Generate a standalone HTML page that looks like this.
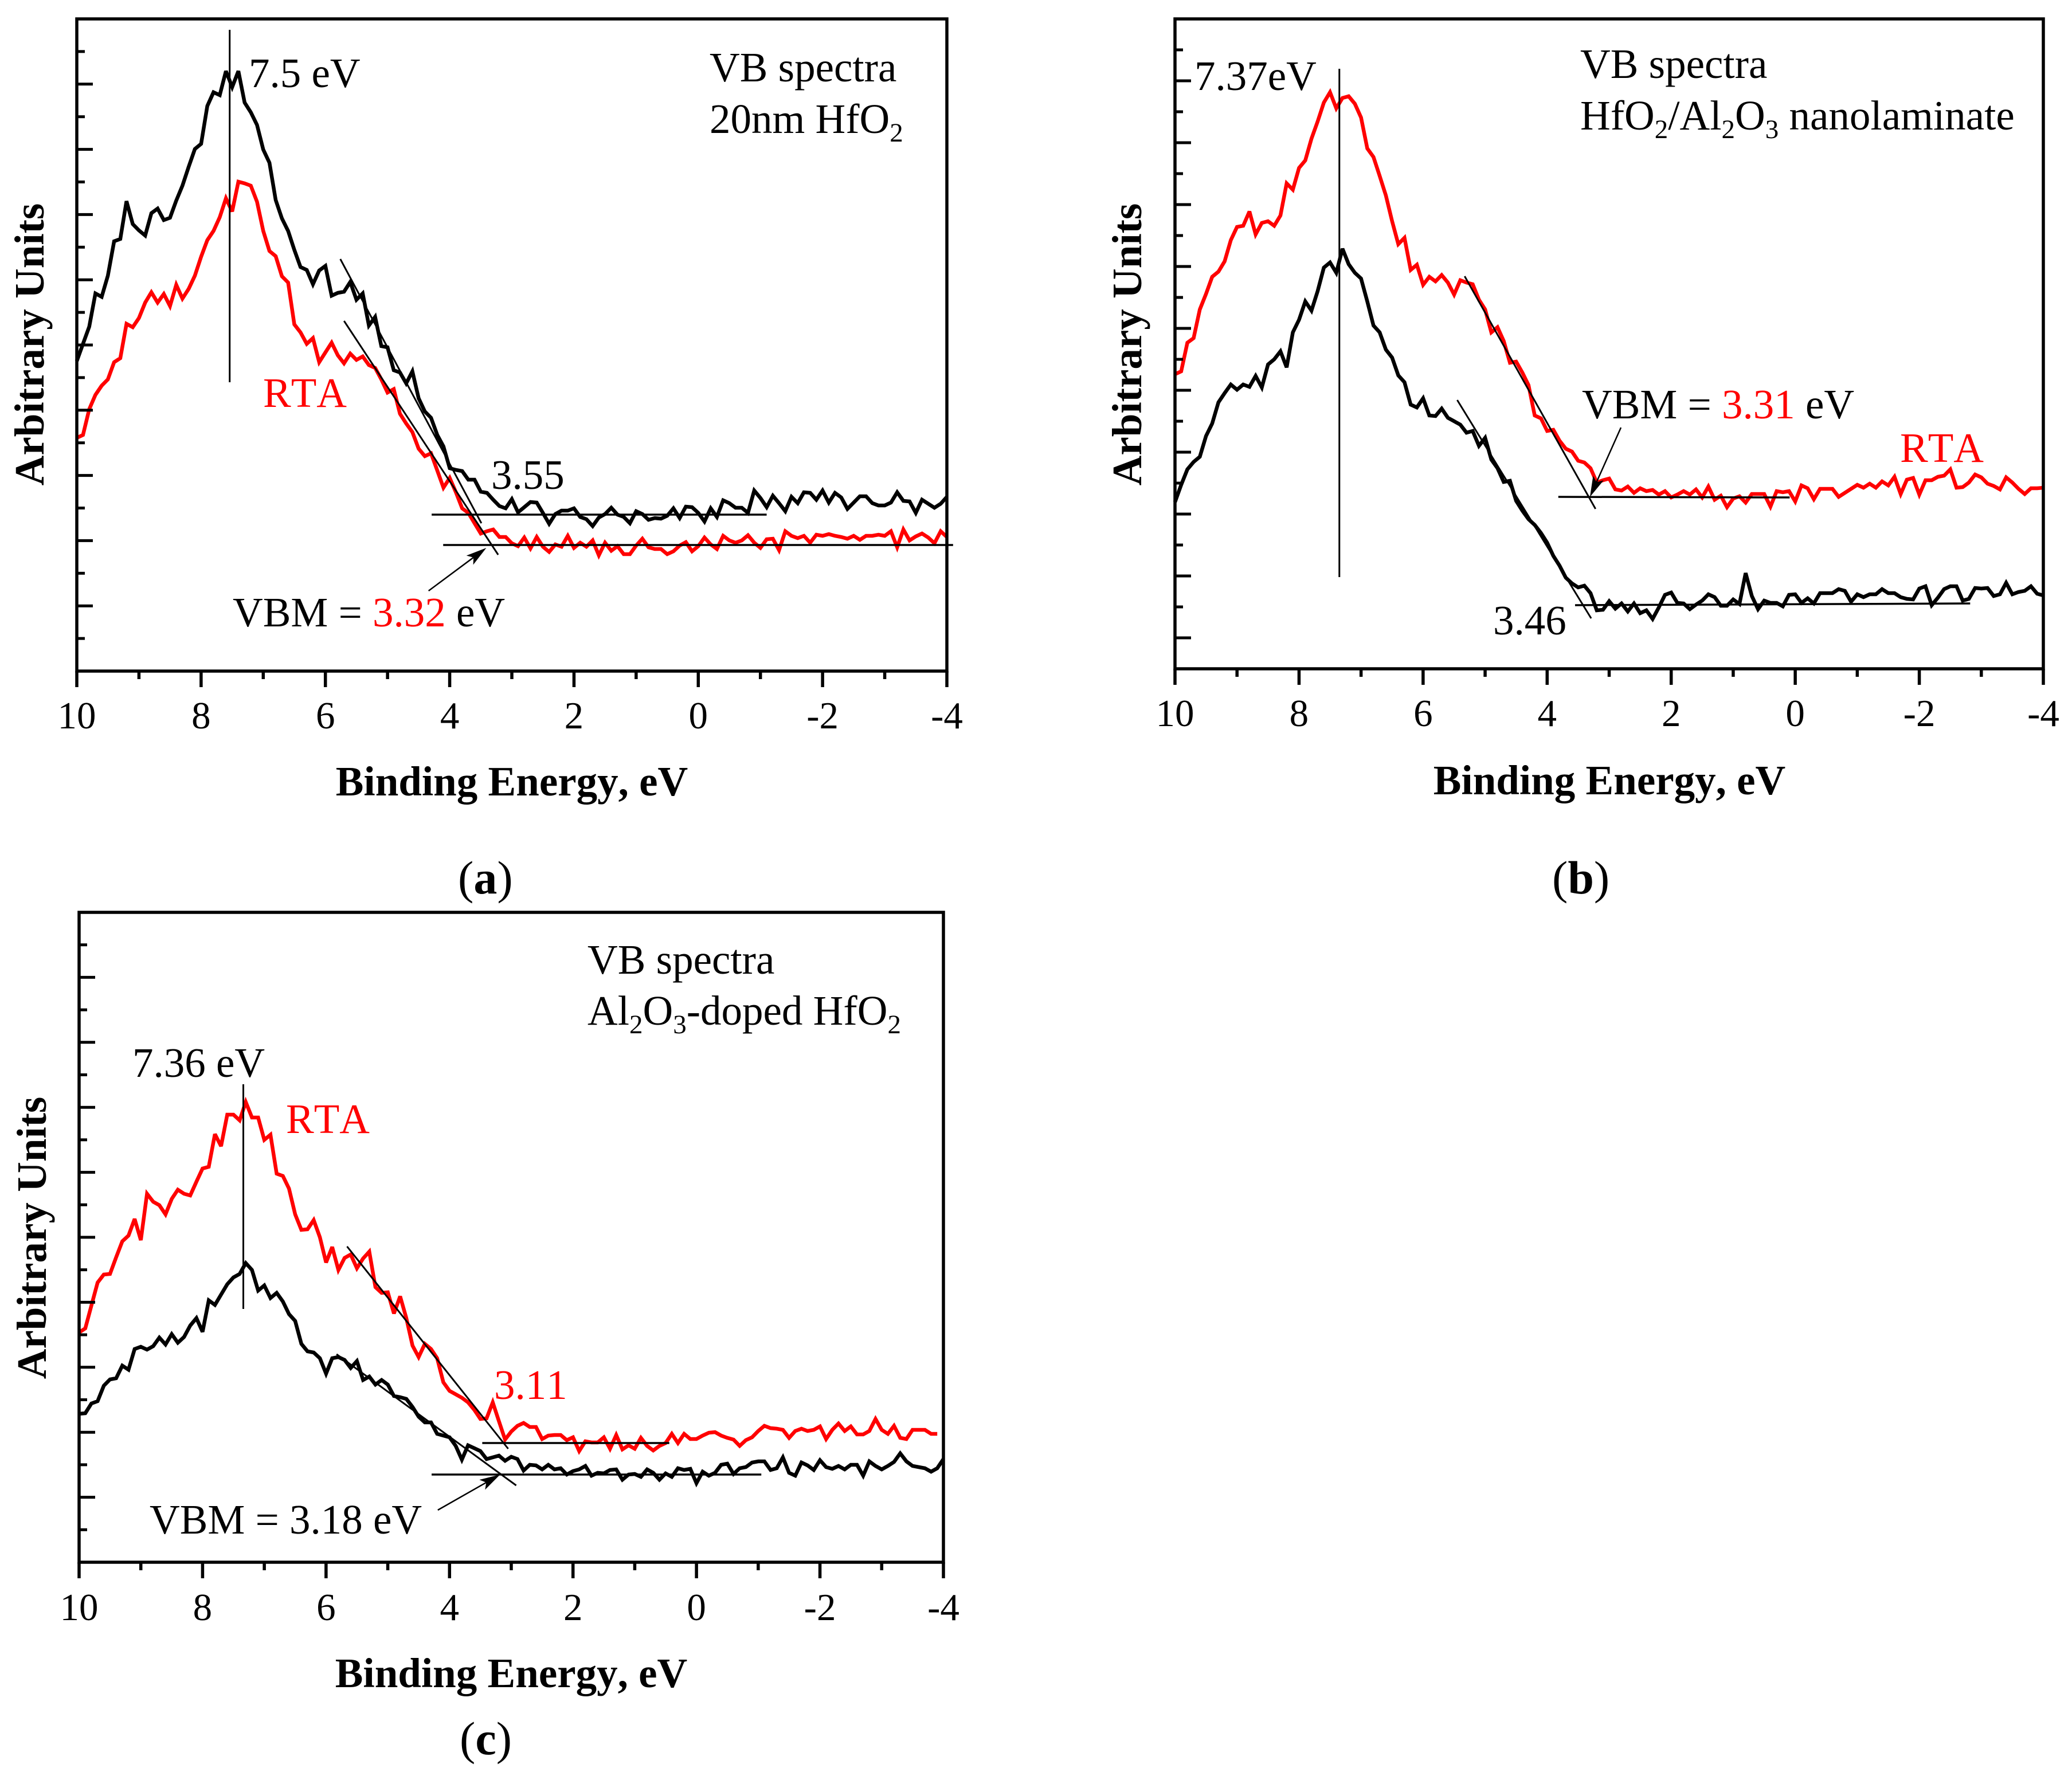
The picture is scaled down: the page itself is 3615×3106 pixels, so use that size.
<!DOCTYPE html>
<html lang="en">
<head>
<meta charset="utf-8">
<title>VB spectra</title>
<style>
html,body{margin:0;padding:0;background:#fff;}
svg{display:block;}
text{font-family:"Liberation Serif",serif;font-size:73px;fill:#000;font-kerning:none;}
.red{fill:#f00;}
.title{font-weight:bold;}
.sub{font-size:47px;}
</style>
</head>
<body>
<svg id="figure" xmlns="http://www.w3.org/2000/svg" width="3615" height="3106" viewBox="0 0 3615 3106">
<rect width="3615" height="3106" fill="#fff"/>
<g id="plots"></g>

<text x="434" y="152">7.5 eV</text>
<text x="1238" y="142">VB spectra</text>
<text x="1238" y="232">20nm HfO<tspan class="sub" dy="15">2</tspan></text>
<text class="red" x="459" y="710">RTA</text>
<text x="857" y="853">3.55</text>
<text x="406" y="1093">VBM = <tspan class="red">3.32</tspan> eV</text>
<text class="title" x="893" y="1388" text-anchor="middle">Binding Energy, eV</text>
<text class="title" transform="translate(76 601) rotate(-90)" text-anchor="middle">Arbitrary Units</text>
<text x="799" y="1559" style="font-size:82px">(<tspan style="font-weight:bold">a</tspan>)</text>

<text x="2084" y="157">7.37eV</text>
<text x="2757" y="136">VB spectra</text>
<text x="2757" y="226">HfO<tspan class="sub" dy="15">2</tspan><tspan dy="-15">/Al</tspan><tspan class="sub" dy="15">2</tspan><tspan dy="-15">O</tspan><tspan class="sub" dy="15">3</tspan><tspan dy="-15"> nanolaminate</tspan></text>
<text x="2760" y="730">VBM = <tspan class="red">3.31</tspan> eV</text>
<text class="red" x="3315" y="806">RTA</text>
<text x="2605" y="1107">3.46</text>
<text class="title" x="2808" y="1386" text-anchor="middle">Binding Energy, eV</text>
<text class="title" transform="translate(1991 601) rotate(-90)" text-anchor="middle">Arbitrary Units</text>
<text x="2708" y="1559" style="font-size:82px">(<tspan style="font-weight:bold">b</tspan>)</text>

<text x="1025" y="1699">VB spectra</text>
<text x="1025" y="1788">Al<tspan class="sub" dy="15">2</tspan><tspan dy="-15">O</tspan><tspan class="sub" dy="15">3</tspan><tspan dy="-15">-doped HfO</tspan><tspan class="sub" dy="15">2</tspan></text>
<text x="231" y="1879">7.36 eV</text>
<text class="red" x="499" y="1977">RTA</text>
<text class="red" x="862" y="2441">3.11</text>
<text x="261" y="2676">VBM = 3.18 eV</text>
<text class="title" x="892" y="2944" text-anchor="middle">Binding Energy, eV</text>
<text class="title" transform="translate(80 2160) rotate(-90)" text-anchor="middle">Arbitrary Units</text>
<text x="802" y="3061" style="font-size:82px">(<tspan style="font-weight:bold">c</tspan>)</text>
</svg>

<script>
// Binding energy grid (eV)
const energy = [10,9.9,9.8,9.7,9.6,9.5,9.4,9.3,9.2,9.1,9,8.9,8.8,8.7,8.6,8.5,8.4,8.3,8.2,8.1,8,7.9,7.8,7.7,7.6,7.5,7.4,7.3,7.2,7.1,7,6.9,6.8,6.7,6.6,6.5,6.4,6.3,6.2,6.1,6,5.9,5.8,5.7,5.6,5.5,5.4,5.3,5.2,5.1,5,4.9,4.8,4.7,4.6,4.5,4.4,4.3,4.2,4.1,4,3.9,3.8,3.7,3.6,3.5,3.4,3.3,3.2,3.1,3,2.9,2.8,2.7,2.6,2.5,2.4,2.3,2.2,2.1,2,1.9,1.8,1.7,1.6,1.5,1.4,1.3,1.2,1.1,1,0.9,0.8,0.7,0.6,0.5,0.4,0.3,0.2,0.1,0,-0.1,-0.2,-0.3,-0.4,-0.5,-0.6,-0.7,-0.8,-0.9,-1,-1.1,-1.2,-1.3,-1.4,-1.5,-1.6,-1.7,-1.8,-1.9,-2,-2.1,-2.2,-2.3,-2.4,-2.5,-2.6,-2.7,-2.8,-2.9,-3,-3.1,-3.2,-3.3,-3.4,-3.5,-3.6,-3.7,-3.8,-3.9,-4];

// Intensities (arbitrary counts)
const aBlack = [541,571,601,659,653,690,750,754,820,780,769,760,799,807,787,791,821,847,880,911,920,986,1010,1005,1047,1019,1047,992,975,953,910,887,822,790,768,735,705,700,675,699,707,655,660,662,679,648,659,603,618,567,565,525,521,502,523,476,453,442,412,392,354,351,349,334,334,313,311,299,288,284,300,277,286,295,294,276,257,274,280,280,284,269,265,253,268,274,285,273,269,258,279,274,264,267,266,271,284,267,287,286,276,261,284,269,298,293,285,285,276,315,302,286,306,293,279,304,293,312,311,299,315,294,311,303,283,294,305,305,293,289,289,294,312,297,296,276,299,292,285,292,304];
const aRed = [407,412,457,482,498,509,539,546,606,600,616,643,661,643,658,637,674,650,667,690,723,752,768,792,825,802,854,851,847,819,768,733,724,689,678,605,591,571,581,539,556,573,551,537,554,543,549,534,529,509,486,492,449,432,417,388,375,380,350,320,337,312,284,276,258,240,244,247,234,234,223,218,233,214,234,217,208,221,217,236,215,224,217,228,202,224,210,218,204,204,219,231,216,213,213,204,209,219,225,209,218,233,221,213,236,228,224,228,237,224,215,230,231,211,244,236,232,236,224,238,236,239,236,234,231,236,229,236,236,238,236,244,216,247,228,235,240,233,223,244,234];
const bBlack = [291,321,348,361,370,406,428,465,481,496,487,496,492,511,491,531,540,554,526,587,609,641,625,659,700,709,691,733,706,691,681,641,599,587,557,543,512,500,461,456,472,442,441,454,438,432,426,412,415,389,403,365,350,326,328,293,276,261,251,237,220,197,180,159,149,142,145,132,102,103,118,105,114,100,114,97,102,87,107,129,133,115,114,104,112,119,130,125,110,110,121,113,167,127,104,119,115,115,109,129,130,115,123,114,132,132,132,139,136,117,130,125,130,130,139,132,132,125,122,121,140,144,111,124,139,144,144,119,122,141,140,141,127,130,150,130,134,136,144,131,128];
const bRed = [514,519,569,577,627,654,684,693,711,748,771,773,798,758,778,781,773,791,847,836,874,887,925,955,988,1006,978,996,999,986,962,908,893,860,826,781,741,752,696,705,670,684,676,687,674,653,678,674,671,644,627,587,596,572,534,536,517,495,442,437,415,417,398,384,379,363,360,350,325,329,332,313,311,318,307,315,310,312,304,310,299,304,310,304,313,299,318,295,302,282,297,301,290,305,305,305,283,310,308,310,292,320,315,296,314,314,314,300,307,314,321,316,323,316,327,320,335,305,330,333,304,329,329,335,337,348,316,317,325,339,334,323,319,313,334,325,314,305,315,315,316];
const cBlack = [259,260,277,281,308,319,321,343,336,372,376,371,377,392,380,398,383,393,413,426,402,457,449,467,485,497,503,522,510,474,483,461,470,455,433,421,381,368,366,356,329,356,358,353,339,351,318,324,310,318,310,290,288,285,271,254,244,244,224,221,218,203,179,204,199,194,180,183,186,177,184,180,160,170,169,162,170,162,164,153,159,162,168,151,156,155,161,162,144,153,154,149,162,156,144,155,149,164,161,163,138,158,151,156,170,172,154,164,166,174,176,176,161,164,183,156,151,174,169,161,178,166,163,168,162,170,170,151,176,168,162,168,175,190,176,168,166,164,158,164,180];
const cRed = [401,408,448,488,502,503,532,560,570,599,562,643,629,623,607,634,650,643,640,664,687,690,747,726,781,781,771,803,776,776,737,746,678,674,652,607,580,581,597,567,523,550,510,531,537,513,530,542,480,470,471,434,464,426,378,358,381,372,356,314,299,293,287,279,266,250,251,279,246,214,228,238,243,236,236,215,221,222,222,213,218,194,211,209,209,218,198,222,197,204,198,217,203,195,203,208,224,208,224,215,215,221,226,227,221,217,214,203,213,218,229,238,234,233,231,217,229,233,229,231,237,215,231,242,229,237,223,223,229,250,231,224,238,217,215,231,231,231,224,224];

// Axis tick values
const xMajorTicks = [10,8,6,4,2,0,-2,-4];
const xMinorTicks = [9,7,5,3,1,-1,-3];
const xTickLabels = ['10','8','6','4','2','0','-2','-4'];

// Tangent, baseline and peak guide lines: [E1, counts1, E2, counts2]
const aGuides = [[7.54,1119,7.54,504],[5.76,719,3.49,258],[5.70,611,3.22,203],[4.29,273,-1.10,273],[4.105,220,-4.1,220]];
const bGuides = [[7.35,1047,7.35,160],[5.33,685,3.22,279],[5.45,469,3.29,88],[3.82,300,0.09,299],[3.55,111,-2.82,114]];
const cGuides = [[7.34,834,7.34,442],[5.66,551,3.05,198],[5.83,363,2.92,134],[3.47,208,0.44,208],[4.29,153,-1.05,153]];

// Arrow annotations: [tail E, tail counts, tip E, tip counts]
const aArrow = [4.34,140,3.41,215];
const bArrow = [2.81,421,3.31,300];
const cArrow = [4.19,91,3.18,153];

const SVGNS = 'http://www.w3.org/2000/svg';
const plots = document.getElementById('plots');

function mk(tag, attrs, parent){
  const el = document.createElementNS(SVGNS, tag);
  for (const k in attrs) el.setAttribute(k, attrs[k]);
  parent.appendChild(el);
  return el;
}

function drawPanel(name, box, yDivisions, firstMajor, series, guides, arrow){
  const g = mk('g', {}, plots);
  
  

  const span = box.bottom - box.top;
  const xScale = e => box.left + (10 - e) * (box.right - box.left) / 14;
  const yScale = v => box.bottom - v;

  // series
  series.forEach(s => {
    const d = s.values.map((v, i) => (i ? 'L' : 'M') + xScale(energy[i]).toFixed(1) + ' ' + yScale(v).toFixed(1)).join('');
    const line = mk('path', {d: d, fill: 'none', stroke: s.color, 'stroke-width': 6.5, 'stroke-linejoin': 'miter', 'stroke-miterlimit': 3}, g);
    
    
  });

  // guides
  guides.forEach((q, i) => {
    const isPeak = i === 0;
    const isBaseline = i > 2;
    const l = mk('line', {x1: xScale(q[0]), y1: yScale(q[1]), x2: xScale(q[2]), y2: yScale(q[3]), stroke: '#000', 'stroke-width': isBaseline ? 3.5 : 3}, g);
    
    
  });

  // arrow
  const tx = xScale(arrow[0]), ty = yScale(arrow[1]), hx = xScale(arrow[2]), hy = yScale(arrow[3]);
  const len = Math.hypot(hx - tx, hy - ty), ux = (hx - tx) / len, uy = (hy - ty) / len;
  const shaft = mk('line', {x1: tx, y1: ty, x2: hx - ux * 20, y2: hy - uy * 20, stroke: '#000', 'stroke-width': 2.5}, g);
  
  
  const bx = hx - ux * 36, by = hy - uy * 36;
  const pts = [[hx, hy], [bx - uy * 10, by + ux * 10], [hx - ux * 28, hy - uy * 28], [bx + uy * 10, by - ux * 10]];
  const head = mk('polygon', {points: pts.map(p => p[0].toFixed(1) + ',' + p[1].toFixed(1)).join(' '), fill: '#000'}, g);
  
  

  // frame
  const frame = mk('rect', {x: box.left, y: box.top, width: box.right - box.left, height: span, fill: 'none', stroke: '#000', 'stroke-width': 5.5}, g);
  
  

  // x ticks
  xMajorTicks.forEach((e, i) => {
    const t = mk('line', {x1: xScale(e), y1: box.bottom, x2: xScale(e), y2: box.bottom + 28, stroke: '#000', 'stroke-width': 5.5}, g);
    
    
    const lab = mk('text', {x: xScale(e), y: box.tickBaseline, 'text-anchor': 'middle', style: 'font-size:67px'}, g);
    lab.textContent = xTickLabels[i];
    
    
  });
  xMinorTicks.forEach(e => {
    const t = mk('line', {x1: xScale(e), y1: box.bottom, x2: xScale(e), y2: box.bottom + 14, stroke: '#000', 'stroke-width': 5.5}, g);
    
    
  });

  // y ticks (unlabelled)
  for (let k = 1; k < yDivisions; k++) {
    const isMajor = (k % 2) === firstMajor;
    const y = box.bottom - k * span / yDivisions;
    const t = mk('line', {x1: box.left, y1: y, x2: box.left + (isMajor ? 28 : 14), y2: y, stroke: '#000', 'stroke-width': 5}, g);
    
    
  }
}

drawPanel('panel-a', {left:134, right:1652, top:33, bottom:1171, tickBaseline:1271}, 20, 0,
  [{label:'as-deposited', color:'#000', values:aBlack}, {label:'rta', color:'#f00', values:aRed}], aGuides, aArrow);
drawPanel('panel-b', {left:2050, right:3565, top:33, bottom:1167, tickBaseline:1267}, 21, 1,
  [{label:'as-deposited', color:'#000', values:bBlack}, {label:'rta', color:'#f00', values:bRed}], bGuides, bArrow);
drawPanel('panel-c', {left:138, right:1646, top:1592, bottom:2726, tickBaseline:2827}, 20, 0,
  [{label:'as-deposited', color:'#000', values:cBlack}, {label:'rta', color:'#f00', values:cRed}], cGuides, cArrow);
</script>
</body>
</html>
